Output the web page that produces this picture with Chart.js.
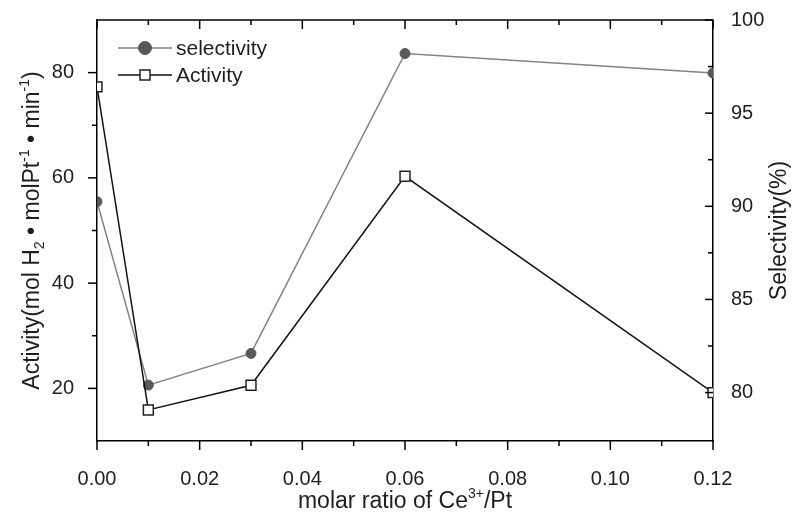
<!DOCTYPE html>
<html>
<head>
<meta charset="utf-8">
<script src="https://cdn.jsdelivr.net/npm/chart.js@4.4.0/dist/chart.umd.min.js"></script>
<style>
  html, body { margin: 0; padding: 0; background: #fff; }
  #wrap { width: 794px; height: 516px; }
</style>
</head>
<body>
<div id="wrap"><canvas id="chart" width="794" height="516"></canvas></div>
<script>
// values
const ratios = [0.00, 0.01, 0.03, 0.06, 0.12];
const activity = [77.3, 15.9, 20.6, 60.3, 19.2];
const selectivity = [90.25, 80.4, 82.1, 98.2, 97.15];

// tick values
const xMajor = [0.00, 0.02, 0.04, 0.06, 0.08, 0.10, 0.12];
const xMinor = [0.01, 0.03, 0.05, 0.07, 0.09, 0.11];
const actMajor = [20, 40, 60, 80];
const actMinor = [30, 50, 70];
const selMajor = [80, 85, 90, 95, 100];
const selMinor = [82.5, 87.5, 92.5, 97.5];

const FONT = "'Liberation Sans', Arial, Helvetica, sans-serif";
const INK = '#1e1e1e';

function richText(ctx, parts, size, x0, baseline, center) {
  const fontFor = p => `${(p.sup || p.sub) ? Math.round(size * 0.62) : size}px ${FONT}`;
  let w = 0;
  parts.forEach(p => { ctx.font = fontFor(p); p.w = ctx.measureText(p.t).width; w += p.w; });
  let x = center ? x0 - w / 2 : x0;
  ctx.textAlign = 'left';
  ctx.textBaseline = 'alphabetic';
  parts.forEach(p => {
    ctx.font = fontFor(p);
    const dy = p.sup ? -size * 0.45 : (p.sub ? size * 0.22 : 0);
    ctx.fillText(p.t, x, baseline + dy);
    x += p.w;
  });
}

const framePlugin = {
  id: 'frame',
  afterDraw(chart) {
    const { ctx, chartArea: a, scales } = chart;
    const seg = (x1, y1, x2, y2) => { ctx.beginPath(); ctx.moveTo(x1, y1); ctx.lineTo(x2, y2); ctx.stroke(); };
    ctx.save();
    ctx.strokeStyle = '#000';
    ctx.lineWidth = 1.5;
    seg(a.left, a.top, a.right, a.top);

    // bottom ticks out, top ticks in
    xMajor.forEach(v => { const px = scales.x.getPixelForValue(v); seg(px, a.bottom, px, a.bottom + 9); seg(px, a.top, px, a.top + 9); });
    xMinor.forEach(v => { const px = scales.x.getPixelForValue(v); seg(px, a.bottom, px, a.bottom + 5); seg(px, a.top, px, a.top + 5); });
    // left ticks out
    actMajor.forEach(v => { const py = scales.y.getPixelForValue(v); seg(a.left - 9, py, a.left, py); });
    actMinor.forEach(v => { const py = scales.y.getPixelForValue(v); seg(a.left - 5, py, a.left, py); });
    // right ticks in
    selMajor.forEach(v => { const py = scales.y2.getPixelForValue(v); seg(a.right - 8, py, a.right, py); });
    selMinor.forEach(v => { const py = scales.y2.getPixelForValue(v); seg(a.right - 5, py, a.right, py); });

    // axis titles
    ctx.fillStyle = INK;
    richText(ctx, [{ t: 'molar ratio of Ce' }, { t: '3+', sup: true }, { t: '/Pt' }],
      23, (a.left + a.right) / 2, 508, true);

    ctx.save();
    ctx.translate(39, (a.top + a.bottom) / 2);
    ctx.rotate(-Math.PI / 2);
    richText(ctx, [{ t: 'Activity(mol H' }, { t: '2', sub: true }, { t: ' \u2022 molPt' }, { t: '-1', sup: true },
      { t: ' \u2022 min' }, { t: '-1', sup: true }, { t: ')' }], 23, 0, 0, true);
    ctx.restore();

    ctx.save();
    ctx.translate(786, (a.top + a.bottom) / 2);
    ctx.rotate(-Math.PI / 2);
    richText(ctx, [{ t: 'Selectivity(%)' }], 23, 0, 0, true);
    ctx.restore();

    // legend
    const rows = [48, 75];
    chart.data.datasets.forEach((ds, i) => {
      const y = rows[i];
      ctx.strokeStyle = ds.borderColor;
      ctx.lineWidth = ds.borderWidth;
      seg(118, y, 172, y);
      ctx.fillStyle = ds.pointBackgroundColor;
      ctx.strokeStyle = ds.pointBorderColor;
      ctx.lineWidth = ds.pointBorderWidth;
      ctx.beginPath();
      if (ds.pointStyle === 'circle') ctx.arc(145, y, 6.5, 0, Math.PI * 2);
      else ctx.rect(140, y - 5, 10, 10);
      ctx.fill();
      ctx.stroke();
      ctx.fillStyle = INK;
      ctx.font = `21px ${FONT}`;
      ctx.textAlign = 'left';
      ctx.textBaseline = 'middle';
      ctx.fillText(ds.label, 176, y + 1);
    });
    ctx.restore();
  }
};

const chart = new Chart(document.getElementById('chart'), {
  type: 'line',
  data: {
    datasets: [
      {
        label: 'selectivity',
        data: ratios.map((x, i) => ({ x: x, y: selectivity[i] })),
        yAxisID: 'y2',
        borderColor: '#828282',
        borderWidth: 1.5,
        pointStyle: 'circle',
        pointRadius: 5,
        pointBackgroundColor: '#595959',
        pointBorderColor: '#595959',
        pointBorderWidth: 1,
        clip: 0,
        order: 1
      },
      {
        label: 'Activity',
        data: ratios.map((x, i) => ({ x: x, y: activity[i] })),
        yAxisID: 'y',
        borderColor: '#111',
        borderWidth: 1.5,
        pointStyle: 'rect',
        pointRadius: 7,
        pointBackgroundColor: '#fff',
        pointBorderColor: '#222',
        pointBorderWidth: 1.5,
        clip: 0,
        order: 0
      }
    ]
  },
  options: {
    responsive: false,
    animation: false,
    devicePixelRatio: 1,
    layout: { padding: { top: 20, left: 0, right: 0, bottom: 0 } },
    plugins: { legend: { display: false }, tooltip: { enabled: false } },
    scales: {
      x: {
        type: 'linear',
        min: 0,
        max: 0.12,
        afterBuildTicks: s => { s.ticks = xMajor.map(v => ({ value: v })); },
        afterFit: s => { s.height = 75; s.paddingLeft = 0; s.paddingRight = 0; },
        grid: { display: false },
        border: { color: '#000', width: 1.5 },
        ticks: {
          autoSkip: false, maxRotation: 0, padding: 18, color: INK,
          font: { family: FONT, size: 20 },
          callback: v => v.toFixed(2)
        }
      },
      y: {
        position: 'left',
        min: 10,
        max: 90,
        afterBuildTicks: s => { s.ticks = actMajor.map(v => ({ value: v })); },
        afterFit: s => { s.width = 97; s.paddingTop = 0; s.paddingBottom = 0; },
        grid: { display: false },
        border: { color: '#000', width: 1.5 },
        ticks: { padding: 15, color: INK, font: { family: FONT, size: 20 }, callback: v => String(v) }
      },
      y2: {
        position: 'right',
        min: 77.4,
        max: 100,
        afterBuildTicks: s => { s.ticks = selMajor.map(v => ({ value: v })); },
        afterFit: s => { s.width = 81; s.paddingTop = 0; s.paddingBottom = 0; },
        grid: { display: false },
        border: { color: '#000', width: 1.5 },
        ticks: { padding: 10, color: INK, font: { family: FONT, size: 20 }, callback: v => String(v) }
      }
    }
  },
  plugins: [framePlugin]
});
</script>
</body>
</html>
